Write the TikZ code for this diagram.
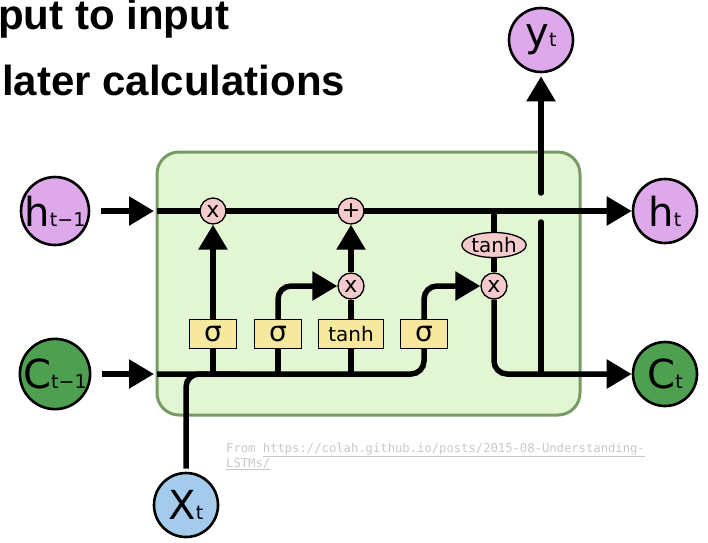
\documentclass[tikz,border=0pt]{standalone}
\usepackage{fontspec}
\setmainfont{DejaVu Sans}
\newfontfamily\headfont{Liberation Sans}
\newfontfamily\creditfont{DejaVu Sans Mono}
\usetikzlibrary{arrows.meta,shapes.geometric,backgrounds}
\definecolor{hpurp}{HTML}{DDA9EB}
\definecolor{cgreen}{HTML}{4E9F50}
\definecolor{xblue}{HTML}{A4CBEC}
\definecolor{boxfill}{HTML}{E2F6D3}
\definecolor{boxline}{HTML}{789A67}
\definecolor{gatefill}{HTML}{F7E8A0}
\definecolor{opfill}{HTML}{F5CACC}
\definecolor{creditgray}{HTML}{C8C8C8}
\tikzset{
  wire/.style={line width=5.5pt, rounded corners=13pt},
  arr/.style={-{Triangle[length=25pt,width=28pt]}},
  state/.style={circle, draw, line width=2.6pt, minimum size=64pt, inner sep=0pt},
  gate/.style={draw, fill=gatefill, line width=1.3pt, minimum width=47pt, minimum height=29pt, inner sep=0pt},
  op/.style={circle, draw, fill=opfill, line width=1.3pt, minimum size=26pt, inner sep=0pt, font=\fontsize{22}{22}\selectfont},
  head/.style={anchor=base west, inner sep=0pt, font=\headfont\bfseries\fontsize{42}{42}\selectfont},
  credit/.style={anchor=base west, inner sep=0pt, text=creditgray, font=\creditfont\fontsize{12.2}{12.2}\selectfont}
}
\newcommand{\statelbl}[2]{{\fontsize{40}{40}\selectfont #1}{\fontsize{19}{19}\selectfont #2}}
\begin{document}
\begin{tikzpicture}[x=1pt,y=-1pt]
\useasboundingbox (0,0) rectangle (708,542);

% header text
\node[head] (t1) at (-2,29) {put to input};
\node[head] (t2) at (2,95) {later calculations};

% state circles
\node[state, fill=hpurp] (hprev) at (55,211) {\statelbl{h}{t−1}};
\node[state, fill=cgreen] (cprev) at (55,374) {\statelbl{C}{t−1}};
\node[state, fill=hpurp] (ht) at (665,211) {\statelbl{h}{t}};
\node[state, fill=cgreen] (ct) at (665,374) {\statelbl{C}{t}};
\node[state, fill=hpurp] (yt) at (541,40) {\statelbl{y}{t}};
\node[state, fill=xblue] (xt) at (186,505) {\statelbl{X}{t}};

% gates
\node[gate, font=\fontsize{28}{28}\selectfont] (g1) at (213,334) {σ};
\node[gate, font=\fontsize{28}{28}\selectfont] (g2) at (278,334) {σ};
\node[gate, minimum width=65pt, font=\fontsize{20}{20}\selectfont] (g3) at (351,334) {tanh};
\node[gate, font=\fontsize{28}{28}\selectfont] (g4) at (424,334) {σ};

% pointwise ops
\node[op] (x1) at (213,211) {x};
\node[op] (pl) at (351,211) {+};
\node[op] (x2) at (351,286) {x};
\node[op] (x3) at (494,286) {x};
\node[ellipse, draw, fill=opfill, line width=1.3pt, minimum width=64pt, minimum height=25pt, inner sep=0pt, font=\fontsize{20}{20}\selectfont] (th) at (494,245) {tanh};

% coordinates
\coordinate (hin) at (154,211);
\coordinate (cin) at (154,374);
\coordinate (hstart) at (157,211);
\coordinate (cstart) at (157,374);
\coordinate (hj) at (494,211);
\coordinate (ylow) at (541,374);
\coordinate (ymid) at (541,222);
\coordinate (yhi) at (541,193);

% credit
\node[credit] (cr1) at (226,452) {From \underline{https://colah.github.io/posts/2015-08-Understanding-}};
\node[credit] (cr2) at (226,467) {\underline{LSTMs/}};

\begin{scope}[on background layer]
  \draw[fill=boxfill, draw=boxline, line width=3pt, rounded corners=22pt] (157,152) rectangle (580,415);
  % inputs
  \draw[wire, arr] ([xshift=11pt]hprev.east) -- (hin);
  \draw[wire, arr] ([xshift=11pt]cprev.east) -- (cin);
  % top line
  \draw[wire, arr] (hstart) -- (ht);
  % bottom input row
  \draw[wire] (cstart) -- (424,374) -- (g4.south);
  \draw[wire] ([yshift=3pt]xt.north) -- (186,374) -- (240,374);
  \draw[wire] (g1.south) -- (213,374);
  \draw[wire] (g2.south) -- (278,374);
  \draw[wire] (g3.south) -- (351,374);
  % gate outputs
  \draw[wire, arr] (g1.north) -- (x1.south);
  \draw[wire, arr] (g2.north) -- (278,286) -- (x2.west);
  \draw[wire] (g3.north) -- (x2.south);
  \draw[wire, arr] (x2.north) -- (pl.south);
  \draw[wire, arr] (g4.north) -- (424,286) -- (x3.west);
  \draw[wire] (x3.north) -- (th.south);
  \draw[wire] (th.north) -- (hj);
  \draw[wire, arr] (x3.south) -- (494,374) -- (ct);
  % output y
  \draw[wire, line cap=round] (ylow) -- (ymid);
  \draw[wire, line cap=round, arr, shorten >=3pt] (yhi) -- (yt);
\end{scope}
\end{tikzpicture}
\end{document}
